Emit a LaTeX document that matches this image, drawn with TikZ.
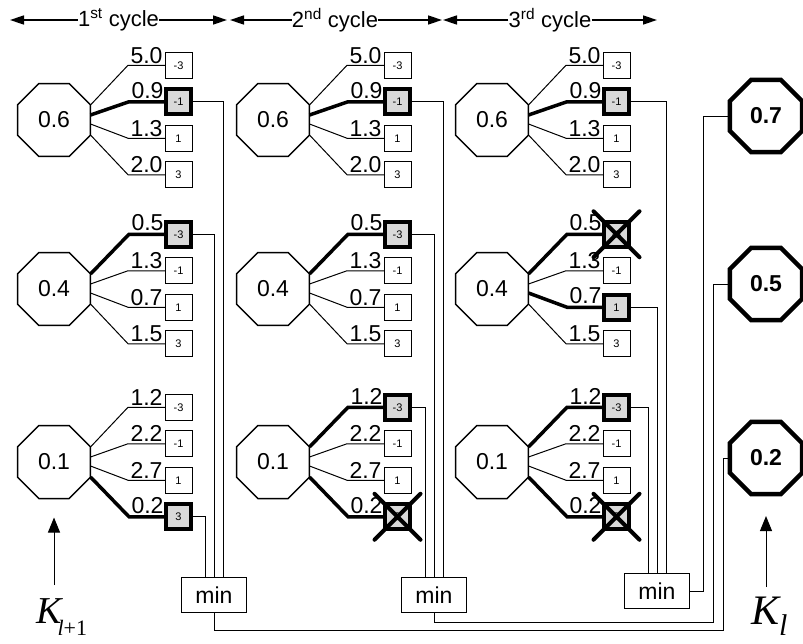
\documentclass[tikz,border=0pt]{standalone}
\usepackage{fontspec}
\setmainfont{Liberation Sans}
\newfontfamily\kfont{Liberation Serif}
\usetikzlibrary{shapes.geometric, shapes.misc, arrows.meta, calc}

\begin{document}
\begin{tikzpicture}[x=1pt, y=-1pt,
    oct/.style={draw, regular polygon, regular polygon sides=8, minimum size=79pt,
                inner sep=0pt, outer sep=0pt, line width=1.5pt,
                font=\fontsize{23}{26}\selectfont},
    res/.style={oct, minimum size=78pt, line width=4.5pt,
                font=\fontsize{23}{26}\selectfont\bfseries},
    box/.style={draw, fill=white, line width=1pt, minimum width=27pt, minimum height=26pt,
                inner sep=0pt, outer sep=0pt, font=\fontsize{11}{13}\selectfont},
    pick/.style={fill=gray!30, line width=4pt, minimum width=25pt, minimum height=25pt},
    branch/.style={line width=1pt},
    heavy/.style={line width=3.5pt},
    wt/.style={anchor=south, inner sep=1.5pt, font=\fontsize{23}{26}\selectfont},
    wire/.style={line width=1pt},
    minbox/.style={draw, line width=1pt, minimum width=65pt, minimum height=35pt,
                   font=\fontsize{23}{26}\selectfont},
    cut/.style={cross out, draw, line width=4pt, line cap=round, minimum size=42pt, inner sep=0pt},
    ttl/.style={inner sep=0pt, font=\fontsize{22}{26}\selectfont},
    tip/.style={-{Triangle[length=14pt,width=9pt]}, line width=1.5pt},
    arr/.style={-{Triangle[length=15pt,width=12pt]}, line width=1pt},
    %% branches kept in each cycle
    e112/.style=heavy, k112/.style=pick,
    e121/.style=heavy, k121/.style=pick,
    e134/.style=heavy, k134/.style=pick,
    e212/.style=heavy, k212/.style=pick,
    e221/.style=heavy, k221/.style=pick,
    e231/.style=heavy, k231/.style=pick,
    e234/.style=heavy, k234/.style=pick,
    e312/.style=heavy, k312/.style=pick,
    e321/.style=heavy, k321/.style=pick,
    e323/.style=heavy, k323/.style=pick,
    e331/.style=heavy, k331/.style=pick,
    e334/.style=heavy, k334/.style=pick
  ]
    \useasboundingbox (0,0) rectangle (803,643);

    %% Cycle headers
    \node[ttl] (t1) at (118.5,20) {1\textsuperscript{st} cycle};
    \node[ttl] (t2) at (335,20) {2\textsuperscript{nd} cycle};
    \node[ttl] (t3) at (550,20) {3\textsuperscript{rd} cycle};
    \coordinate (t1l) at (10,20);  \coordinate (t1r) at (227,20);
    \coordinate (t2l) at (230,20); \coordinate (t2r) at (442,20);
    \coordinate (t3l) at (443,20); \coordinate (t3r) at (657,20);
    \foreach \n in {1,2,3} {
      \draw[tip] (t\n.west |- t\n l) -- (t\n l);
      \draw[tip] (t\n.east |- t\n r) -- (t\n r);
    }

    %% Trees of the three cycles
    \foreach \col/\cx in {1/54, 2/273, 3/492}
      \foreach \row/\cy/\val/\fa/\fb/\fc/\fd in {1/120/0.6/5.0/0.9/1.3/2.0,
                                                2/289/0.4/0.5/1.3/0.7/1.5,
                                                3/462/0.1/1.2/2.2/2.7/0.2} {
        \node[oct] (o\col\row) at (\cx,\cy) {\val};
        \foreach \br/\dy/\sy/\w/\lab in {1/-54.75/-15/\fa/-3, 2/-18.25/-5/\fb/-1,
                                         3/18.25/4/\fc/1, 4/54.75/15/\fd/3} {
          \node[box, k\col\row\br/.try] (b\col\row\br) at (\cx+124.5,\cy+\dy) {\lab};
          \draw[branch, e\col\row\br/.try] ($(o\col\row.east)+(0,\sy)$)
            -- ($(b\col\row\br.west)+(-37,0)$) -- node[wt] {\w} (b\col\row\br.west);
        }
      }

    %% Dropped candidates
    \foreach \n in {234, 321, 334}
      \node[cut] (x\n) at (b\n) {};

    %% Min units
    \node[minbox] (m1) at (214,595) {min};
    \node[minbox] (m2) at (434,595) {min};
    \node[minbox] (m3) at (657,591) {min};
    \foreach \col/\ra/\rb/\rc in {1/2/1/4, 2/2/1/1, 3/2/3/1} {
      \draw[wire] (b\col1\ra.east) -| ([xshift=9pt]m\col.north);
      \draw[wire] (b\col2\rb.east) -| (m\col.north);
      \draw[wire] (b\col3\rc.east) -| ([xshift=-9pt]m\col.north);
    }

    %% Results
    \node[res] (k1) at (766,116) {0.7};
    \node[res] (k2) at (766,284) {0.5};
    \node[res] (k3) at (766,458) {0.2};
    \coordinate (j1) at (723,630);
    \coordinate (j2) at (713,622);
    \coordinate (j3) at (703,591);
    \draw[wire] (m1.south) |- (j1) |- (k3.west);
    \draw[wire] (m2.south) |- (j2) |- (k2.west);
    \draw[wire] (m3.east) -- (j3) |- (k1.west);

    %% Layer labels
    \node[anchor=north west, inner sep=0pt, font=\fontsize{38}{40}\selectfont\kfont\itshape]
      (kin) at (36,598) {K\kern-4pt\raisebox{-12pt}{\fontsize{22}{24}\selectfont l\upshape+1}};
    \node[anchor=north west, inner sep=0pt, font=\fontsize{42}{44}\selectfont\kfont\itshape]
      (kout) at (751,597) {K\raisebox{-11pt}{\fontsize{30}{32}\selectfont l}};
    \draw[arr, shorten <=13pt, shorten >=19pt] (kin.north -| o13.south) -- (o13.south);
    \draw[arr, shorten <=10pt, shorten >=22pt] (kout.north -| k3.south) -- (k3.south);
\end{tikzpicture}
\end{document}
